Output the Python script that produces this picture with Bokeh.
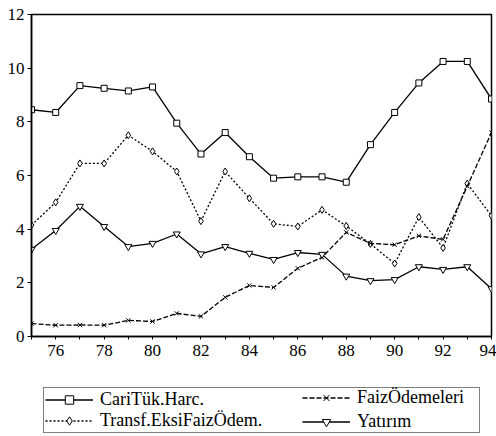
from bokeh.plotting import figure
from bokeh.layouts import column
from bokeh.models import Legend, LegendItem, FixedTicker, Range1d
from bokeh.embed import file_html
from bokeh.resources import INLINE

years = list(range(75, 95))
cari = [8.45, 8.35, 9.35, 9.25, 9.15, 9.3, 7.95, 6.8, 7.6, 6.7, 5.9, 5.95, 5.95, 5.75, 7.15, 8.35, 9.45, 10.25, 10.25, 8.85]
faiz = [0.48, 0.42, 0.43, 0.42, 0.6, 0.56, 0.86, 0.75, 1.46, 1.9, 1.83, 2.54, 2.95, 3.88, 3.47, 3.42, 3.75, 3.62, 5.6, 7.6]
transf = [4.15, 5.0, 6.45, 6.45, 7.5, 6.9, 6.15, 4.3, 6.15, 5.15, 4.2, 4.1, 4.72, 4.12, 3.45, 2.72, 4.45, 3.3, 5.7, 4.5]
yatirim = [3.25, 3.95, 4.85, 4.1, 3.35, 3.47, 3.82, 3.08, 3.35, 3.1, 2.87, 3.13, 3.06, 2.25, 2.08, 2.12, 2.6, 2.5, 2.6, 1.78]

names = ["CariTük.Harc.", "Transf.EksiFaizÖdem.", "FaizÖdemeleri", "Yatırım"]
x_ticks = years
y_ticks = [0, 2, 4, 6, 8, 10, 12]

FONT = "Liberation Serif"

p = figure(width=496, height=366, output_backend="svg", toolbar_location=None,
           x_range=Range1d(75, 94), y_range=Range1d(0, 12),
           min_border_left=31, min_border_top=14, min_border_right=5,
           min_border_bottom=30)
p.xgrid.visible = False
p.ygrid.visible = False
p.outline_line_color = "black"
p.outline_line_width = 1.5

p.xaxis.ticker = FixedTicker(ticks=x_ticks)
p.xaxis.major_label_overrides = {y: (str(y) if y % 2 == 0 and y != 75 else "") for y in x_ticks}
p.yaxis.ticker = FixedTicker(ticks=y_ticks)
for ax in (p.xaxis[0], p.yaxis[0]):
    ax.axis_line_color = "black"
    ax.axis_line_width = 1.5
    ax.major_tick_line_color = "black"
    ax.minor_tick_line_color = None
    ax.major_label_text_font = FONT
    ax.major_label_text_font_size = "17px"
    ax.major_label_text_color = "black"
p.xaxis.major_tick_in = 0
p.xaxis.major_tick_out = 3
p.yaxis.major_tick_in = 0
p.yaxis.major_tick_out = 4
p.xaxis.major_label_standoff = 5
p.yaxis.major_label_standoff = 3

lw = 1.3
styles = [
    dict(dash="solid", marker="square", size=6),
    dict(dash="2 2", marker="diamond", size=7),
    dict(dash="5 2", marker="x", size=6),
    dict(dash="solid", marker="inverted_triangle", size=7),
]
series = [cari, transf, faiz, yatirim]

for vals, st in zip(series, styles):
    p.line(years, vals, line_color="black", line_width=lw, line_dash=st["dash"])
    p.scatter(years, vals, marker=st["marker"], size=st["size"], line_color="black", fill_color="white")

# legend panel below the chart (its renderers hold the same data but lie outside its view)
q = figure(width=496, height=70, output_backend="svg", toolbar_location=None,
           x_range=Range1d(0, 1), y_range=Range1d(0, 1), min_border=0)
q.axis.visible = False
q.xgrid.visible = False
q.ygrid.visible = False
q.outline_line_color = None

items = []
for name, vals, st in zip(names, series, styles):
    r1 = q.line(years, vals, line_color="black", line_width=lw, line_dash=st["dash"])
    r2 = q.scatter(years, vals, marker=st["marker"], size=st["size"], line_color="black", fill_color="white")
    items.append(LegendItem(label=name, renderers=[r1, r2]))


def style(lg, pad):
    lg.label_text_font = FONT
    lg.label_text_font_size = "18px"
    lg.label_text_color = "black"
    lg.glyph_width = 48
    lg.glyph_height = 21
    lg.label_height = 21
    lg.label_standoff = 7
    lg.padding = pad
    lg.spacing = 0
    lg.margin = 0


leg1 = Legend(items=items[:2], location=(12, 3))
style(leg1, 1)
leg1.label_width = 435 - 2 - 48 - 7
leg1.border_line_color = "black"
leg1.border_line_width = 1.3
leg1.background_fill_alpha = 1
q.add_layout(leg1)

for item, yloc in zip(items[2:], (28, 4.5)):
    lg = Legend(items=[item], location=(271, yloc))
    style(lg, 0)
    lg.border_line_color = None
    lg.background_fill_alpha = 0
    q.add_layout(lg)

layout = column(p, q, spacing=0)
open("out.html", "w").write(file_html(layout, INLINE))
